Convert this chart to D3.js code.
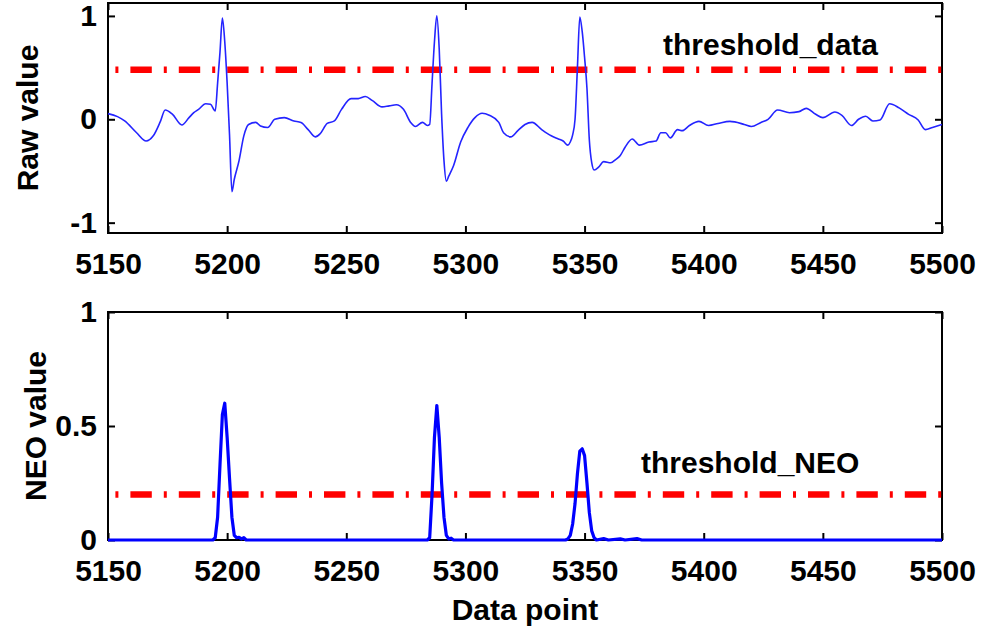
<!DOCTYPE html>
<html>
<head>
<meta charset="utf-8">
<script src="https://cdn.jsdelivr.net/npm/d3@7/dist/d3.min.js"></script>
<style>
  body { margin: 0; background: #fff; }
  svg text { font-family: 'Liberation Sans', Arial, sans-serif; font-weight: bold; fill: #000; }
</style>
</head>
<body>
<svg id="chart" width="987" height="636"></svg>
<script>
// x axis (data point index)
const xDomain = [5150, 5500];
const xTicks = [5150, 5200, 5250, 5300, 5350, 5400, 5450, 5500];

// raw signal
const rawIndex = [5150, 5154, 5157, 5162, 5166, 5169, 5172, 5174, 5177, 5181, 5184, 5186, 5188, 5191, 5193, 5195,
  5196, 5197, 5198, 5199, 5200, 5201, 5202, 5203, 5205, 5207, 5209, 5212, 5214, 5217, 5220, 5224, 5228, 5231,
  5234, 5237, 5239, 5242, 5245, 5248, 5252, 5255, 5258, 5261, 5265, 5268, 5271, 5274, 5277, 5279, 5282, 5284,
  5285, 5286, 5287, 5288, 5289, 5290, 5291, 5292, 5293, 5295, 5298, 5301, 5304, 5307, 5310, 5314, 5316, 5319,
  5322, 5325, 5328, 5332, 5336, 5339, 5341, 5343, 5344, 5345, 5346, 5347, 5348, 5349, 5350, 5351, 5352, 5353,
  5354, 5356, 5358, 5361, 5363, 5365, 5367, 5370, 5373, 5377, 5380, 5382, 5384, 5386, 5389, 5391, 5394, 5398,
  5402, 5406, 5411, 5413, 5417, 5420, 5424, 5427, 5431, 5436, 5440, 5443, 5447, 5450, 5455, 5458, 5462, 5465,
  5468, 5471, 5474, 5478, 5482, 5486, 5490, 5493, 5496, 5500];
const rawValue = [0.055, 0.026, -0.016, -0.13, -0.21, -0.16, -0.02, 0.09, 0.05, -0.055, 0.016, 0.064, 0.096, 0.15, 0.145, 0.08,
  0.35, 0.65, 0.98, 0.75, 0.35, -0.15, -0.7, -0.58, -0.4, -0.16, -0.05, -0.03, -0.065, -0.08, 0, 0.016, -0.016, -0.03,
  -0.1, -0.17, -0.14, -0.04, -0.016, 0.096, 0.2, 0.2, 0.22, 0.18, 0.12, 0.13, 0.14, 0.096, -0.03, -0.07, -0.03, -0.06,
  -0.05, 0.35, 0.75, 1.0, 0.68, 0.05, -0.4, -0.6, -0.55, -0.45, -0.22, -0.08, 0.016, 0.058, 0.04, -0.03, -0.13, -0.17,
  -0.11, -0.05, -0.03, -0.1, -0.16, -0.19, -0.21, -0.25, -0.22, -0.15, 0.0, 0.5, 0.99, 0.85, 0.6, 0.3, -0.2, -0.42,
  -0.49, -0.46, -0.41, -0.42, -0.39, -0.35, -0.27, -0.19, -0.25, -0.22, -0.21, -0.13, -0.13, -0.18, -0.1, -0.11, -0.06, -0.02,
  -0.06, -0.04, -0.02, -0.025, -0.05, -0.07, -0.03, 0, 0.09, 0.064, 0.074, 0.106, 0.048, 0.016, 0.07, 0.038, -0.06, 0,
  0.03, -0.016, -0.007, 0.15, 0.11, 0.048, -0.007, -0.1, -0.08, -0.05];

// NEO output
const neoIndex = [5150, 5194, 5195, 5196, 5197, 5198, 5199, 5200, 5201, 5202, 5203, 5204, 5205, 5206, 5207, 5208,
  5284, 5285, 5286, 5287, 5288, 5289, 5290, 5291, 5292, 5293, 5294, 5295,
  5342, 5343, 5344, 5345, 5346, 5347, 5348, 5349, 5350, 5351, 5352, 5353, 5354, 5355,
  5358, 5360, 5365, 5367, 5372, 5374, 5500];
const neoValue = [0, 0, 0.01, 0.1, 0.33, 0.55, 0.6, 0.45, 0.27, 0.1, 0.02, 0.01, 0.012, 0.005, 0.01, 0,
  0, 0.01, 0.2, 0.45, 0.59, 0.45, 0.25, 0.1, 0.02, 0.005, 0.008, 0,
  0, 0.005, 0.02, 0.07, 0.16, 0.29, 0.39, 0.4, 0.37, 0.25, 0.12, 0.04, 0.01, 0,
  0.006, 0, 0.005, 0, 0.006, 0, 0];

const rawTicks = [-1, 0, 1];
const neoTicks = [0, 0.5, 1];
const thresholdData = 0.48;
const thresholdNeo = 0.2;

(function () {
  const svg = d3.select('#chart');
  const FONT_SIZE = 30;
  const TICK_LEN = 7;
  const BOX = { left: 108, right: 942 };

  const x = d3.scaleLinear().domain(xDomain).range([BOX.left, BOX.right]);

  const panels = [
    {
      top: 3, bottom: 233, yDomain: [-1.1, 1.125], yTicks: rawTicks,
      index: rawIndex, values: rawValue, lineColor: '#2424ff', lineWidth: 1.6, curve: d3.curveMonotoneX,
      yLabel: 'Raw value', yLabelX: 27, threshold: thresholdData,
      note: 'threshold_data', noteX: 663, noteY: 55
    },
    {
      top: 312, bottom: 540, yDomain: [0, 1], yTicks: neoTicks,
      index: neoIndex, values: neoValue, lineColor: '#0000ff', lineWidth: 3.2, curve: d3.curveLinear,
      yLabel: 'NEO value', yLabelX: 35, threshold: thresholdNeo,
      note: 'threshold_NEO', noteX: 641, noteY: 473
    }
  ];

  panels.forEach(function (panel) {
    drawPanel(panel);
  });

  svg.append('text')
    .attr('x', (BOX.left + BOX.right) / 2)
    .attr('y', 620)
    .attr('text-anchor', 'middle')
    .style('font-size', FONT_SIZE + 'px')
    .text('Data point');

  function drawPanel (panel) {
    const y = d3.scaleLinear().domain(panel.yDomain).range([panel.bottom, panel.top]);
    const g = svg.append('g');

    // ticks on all four sides, pointing inward
    g.append('g')
      .attr('transform', 'translate(0,' + panel.bottom + ')')
      .call(d3.axisBottom(x).tickValues(xTicks).tickSizeInner(-TICK_LEN).tickSizeOuter(0)
        .tickPadding(20).tickFormat(function (d) { return String(d); }))
      .call(styleAxis);
    g.append('g')
      .attr('transform', 'translate(0,' + panel.top + ')')
      .call(d3.axisTop(x).tickValues(xTicks).tickSizeInner(-TICK_LEN).tickSizeOuter(0).tickFormat(''))
      .call(styleAxis);
    g.append('g')
      .attr('transform', 'translate(' + BOX.left + ',0)')
      .call(d3.axisLeft(y).tickValues(panel.yTicks).tickSizeInner(-TICK_LEN).tickSizeOuter(0)
        .tickPadding(11).tickFormat(function (d) { return String(d); }))
      .call(styleAxis);
    g.append('g')
      .attr('transform', 'translate(' + BOX.right + ',0)')
      .call(d3.axisRight(y).tickValues(panel.yTicks).tickSizeInner(-TICK_LEN).tickSizeOuter(0).tickFormat(''))
      .call(styleAxis);

    g.append('rect')
      .attr('x', BOX.left)
      .attr('y', panel.top)
      .attr('width', BOX.right - BOX.left)
      .attr('height', panel.bottom - panel.top)
      .attr('fill', 'none')
      .attr('stroke', '#000')
      .attr('stroke-width', 2);

    const series = panel.index.map(function (d, k) { return [d, panel.values[k]]; });
    const line = d3.line()
      .x(function (d) { return x(d[0]); })
      .y(function (d) { return y(d[1]); });

    g.append('path')
      .datum(xDomain.map(function (d) { return [d, panel.threshold]; }))
      .attr('d', line)
      .attr('fill', 'none')
      .attr('stroke', '#ff0000')
      .attr('stroke-width', 6.5)
      .attr('stroke-dasharray', '21.4,12,3,12')
      .attr('stroke-dashoffset', 26);

    g.append('path')
      .datum(series)
      .attr('d', line.curve(panel.curve))
      .attr('fill', 'none')
      .attr('stroke', panel.lineColor)
      .attr('stroke-width', panel.lineWidth)
      .attr('stroke-linejoin', 'round');

    g.append('text')
      .attr('x', panel.noteX)
      .attr('y', panel.noteY)
      .style('font-size', FONT_SIZE + 'px')
      .text(panel.note);

    g.append('text')
      .attr('transform', 'translate(' + panel.yLabelX + ',' + ((panel.top + panel.bottom) / 2) + ') rotate(-90)')
      .attr('text-anchor', 'middle')
      .attr('dy', '0.35em')
      .style('font-size', FONT_SIZE + 'px')
      .text(panel.yLabel);
  }

  function styleAxis (sel) {
    sel.select('.domain').remove();
    sel.selectAll('.tick line').attr('stroke', '#000').attr('stroke-width', 2);
    sel.selectAll('.tick text')
      .attr('fill', '#000')
      .style('font-size', FONT_SIZE + 'px')
      .style('font-family', "'Liberation Sans', Arial, sans-serif")
      .style('font-weight', 'bold');
  }
}());
</script>
</body>
</html>
